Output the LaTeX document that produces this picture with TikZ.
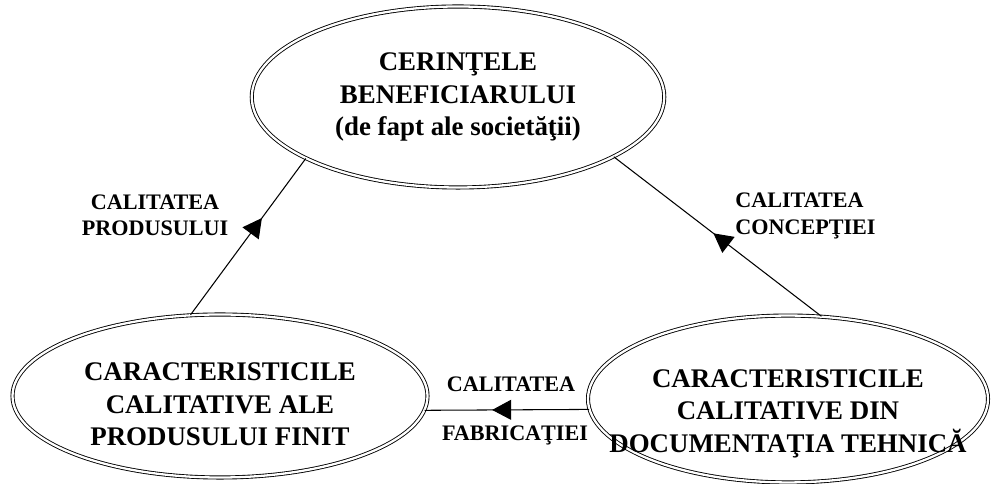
\documentclass[tikz,border=0pt]{standalone}
\usepackage{fontspec}
\setmainfont{Liberation Serif}
\usepackage{tikz}
\usetikzlibrary{arrows.meta, positioning, shapes.geometric, decorations.markings}

\begin{document}
\begin{tikzpicture}[
  stage/.style={ellipse, draw, double, double distance=1.3pt, line width=0.5pt,
    inner sep=0pt, align=center, font=\fontsize{15.3}{18.5}\selectfont\bfseries},
  flow/.style={draw, line width=0.6pt,
    decoration={markings, mark=at position #1 with {\arrow{Triangle[length=3.8mm, width=4mm]}}},
    postaction={decorate}},
  tag/.style={font=\fontsize{12.6}{15}\selectfont\bfseries, inner sep=0pt},
]
  \useasboundingbox (0,0) rectangle (19.84,9.68);

  \node[stage, minimum width=8.25cm, minimum height=3.62cm] (cerinte) at (9.16,7.74) {
    CERINŢELE\\ BENEFICIARULUI\\ (de fapt ale societăţii)
  };
  \node[stage, minimum width=8.3cm, minimum height=3.26cm] (produs) at (4.40,1.76) {
    \rule{0pt}{20pt}CARACTERISTICILE\\ CALITATIVE ALE\\ PRODUSULUI FINIT
  };
  \node[stage, inner xsep=-0.8cm, minimum width=8.0cm, minimum height=3.3cm] (document) at (15.76,1.70) {
    \rule{0pt}{27pt}CARACTERISTICILE\\ CALITATIVE DIN\\ DOCUMENTAŢIA TEHNICĂ
  };

  \draw[flow=0.62] (produs.110) -- (cerinte.202.6);
  \draw[flow=0.52] (document.68) -- (cerinte.339.4);
  \draw[flow=0.59] (document.183) -- (produs.356);

  \node[tag, align=center] (qprodus) at (3.10,5.38) {CALITATEA\\ PRODUSULUI};
  \node[tag, align=left, anchor=west] (qconceptie) at (14.70,5.36) {CALITATEA\\ CONCEPŢIEI};
  \node[tag] (qfabr1) at (10.22,2.00) {CALITATEA};
  \node[tag] (qfabr2) at (10.30,0.98) {FABRICAŢIEI};
\end{tikzpicture}
\end{document}
